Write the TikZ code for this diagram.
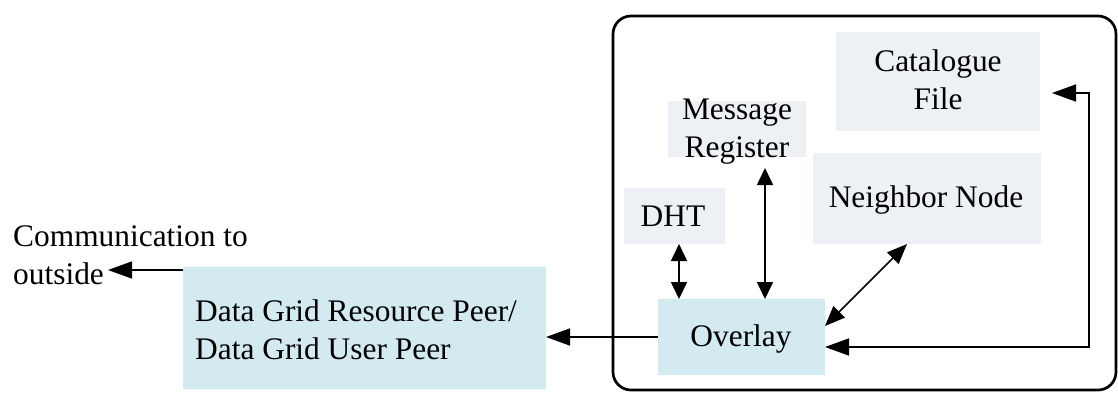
\documentclass[tikz,border=0pt]{standalone}
\usepackage{fontspec}
\setmainfont{Liberation Serif}
\usetikzlibrary{arrows.meta,calc}
\definecolor{boxgray}{RGB}{237,240,245}
\definecolor{boxcyan}{RGB}{210,234,240}
\begin{document}
\begin{tikzpicture}[x=1pt,y=-1pt,
  gbox/.style={fill=boxgray, inner sep=0pt, outer sep=0pt},
  cbox/.style={fill=boxcyan, inner sep=0pt, outer sep=0pt},
  lbl/.style={inner sep=0pt, font=\fontsize{31.4}{37.5}\selectfont},
  conn/.style={line width=1.6pt},
  hlong/.style={-{Triangle[length=24pt,width=17pt]}},
  hlongboth/.style={{Triangle[length=24pt,width=17pt]}-{Triangle[length=24pt,width=17pt]}},
  vshortboth/.style={{Triangle[length=17pt,width=16pt]}-{Triangle[length=17pt,width=16pt]}},
  diagboth/.style={{Triangle[length=20pt,width=16pt]}-{Triangle[length=20pt,width=16pt]}}]
\useasboundingbox (0,0) rectangle (1118,392);
% frame
\node[draw, line width=2.7pt, rounded corners=18pt, minimum width=503pt, minimum height=374pt, inner sep=0pt] (frame) at (864.5,203) {};
% boxes
\node[gbox, minimum width=204pt, minimum height=99pt] (cat) at (938,81.5) {};
\node[gbox, minimum width=138pt, minimum height=56pt] (msg) at (737,129) {};
\node[gbox, minimum width=228pt, minimum height=91pt] (nb) at (927,198.5) {};
\node[gbox, minimum width=101pt, minimum height=56pt] (dht) at (674.5,216) {};
\node[cbox, minimum width=167pt, minimum height=76pt] (ov) at (741.5,337) {};
\node[cbox, minimum width=363pt, minimum height=122pt] (dg) at (364.5,328) {};
% labels
\node[lbl, align=center, anchor=base] (catT) at (938,109) {Catalogue\\File};
\node[lbl, align=center, anchor=base] (msgT) at (737,157) {Message\\Register};
\node[lbl, anchor=base] (nbT) at (926,207) {Neighbor Node};
\node[lbl, anchor=base] (dhtT) at (673,226) {DHT};
\node[lbl, anchor=base] (ovT) at (741,346) {Overlay};
\node[lbl, align=left, anchor=base west] (dgT) at (195,359) {Data Grid Resource Peer/\\Data Grid User Peer};
\node[lbl, align=left, anchor=base west] (comm) at (13,284) {Communication to\\outside};
% connectors
\draw[conn, vshortboth] ([xshift=4.5pt]dht.south) -- ([xshift=4.5pt]dht.south |- ov.north);
\draw[conn, vshortboth] ([xshift=28pt,yshift=-11pt]msg.south) -- ([xshift=28pt]msg.south |- ov.north);
\draw[conn, diagboth] ([xshift=-20pt]nb.south) -- ([yshift=11pt]ov.east);
\draw[conn, hlongboth] ([yshift=-10pt]ov.east) -| ([xshift=49pt,yshift=-11.5pt]cat.east) -- ([xshift=12pt,yshift=-11.5pt]cat.east);
\draw[conn, hlong] (ov.west) -- (ov.west -| dg.east);
\coordinate (outtip) at (108,270);
\draw[conn, hlong] (dg.north west |- outtip) -- (outtip);
\end{tikzpicture}
\end{document}
